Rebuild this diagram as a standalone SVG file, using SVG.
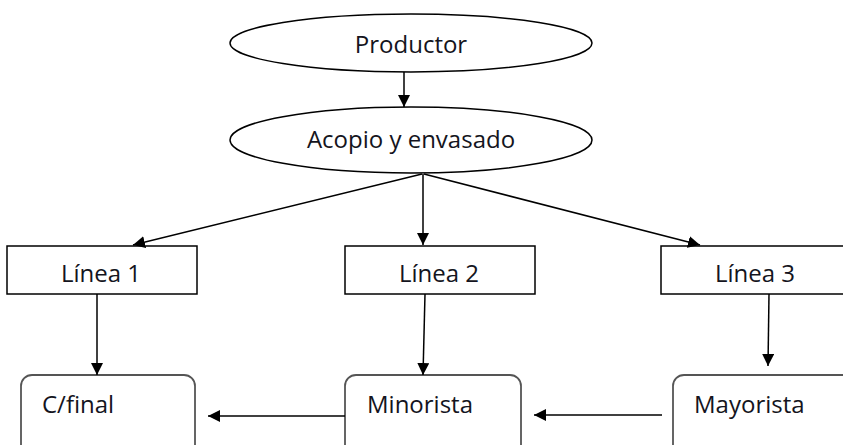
<svg xmlns="http://www.w3.org/2000/svg" width="843" height="445" viewBox="0 0 843 445">
<style>
.t{font-family:"Open Sans","Liberation Sans",sans-serif;font-size:24px;fill:#141420}
.el{fill:#fff;stroke:#000;stroke-width:1.5}
.bx{fill:#fff;stroke:#000;stroke-width:1.5}
.rb{fill:#fff;stroke:#555;stroke-width:1.8}
.c{stroke:#000;stroke-width:1.5;fill:none;marker-end:url(#ah)}
</style>
<defs>
<marker id="ah" markerUnits="userSpaceOnUse" markerWidth="12" markerHeight="12" refX="12" refY="6" orient="auto" viewBox="0 0 12 12">
<path d="M0,0 L12,6 L0,12 z" fill="#000"/>
</marker>
</defs>
<rect width="843" height="445" fill="#fff"/>
<g id="productor"><ellipse class="el" cx="411" cy="43" rx="181" ry="29"/><text class="t" x="411" y="53" text-anchor="middle">Productor</text></g>
<g id="acopio"><ellipse class="el" cx="411" cy="140" rx="181" ry="33"/><text class="t" x="411" y="148" text-anchor="middle">Acopio y envasado</text></g>
<g id="linea1"><rect class="bx" x="7" y="246" width="190" height="48"/><text class="t" x="101" y="282" text-anchor="middle">Línea 1</text></g>
<g id="linea2"><rect class="bx" x="345" y="246" width="190" height="48"/><text class="t" x="439" y="282" text-anchor="middle">Línea 2</text></g>
<g id="linea3"><rect class="bx" x="661" y="246" width="190" height="48"/><text class="t" x="755" y="282" text-anchor="middle">Línea 3</text></g>
<g id="cfinal"><rect class="rb" x="21" y="375" width="174" height="90" rx="11"/><text class="t" x="42" y="413">C/final</text></g>
<g id="minorista"><rect class="rb" x="345" y="375" width="176" height="90" rx="11"/><text class="t" x="367" y="413">Minorista</text></g>
<g id="mayorista"><rect class="rb" x="673" y="375" width="190" height="90" rx="11"/><text class="t" x="694" y="413">Mayorista</text></g>
<g id="connectors">
<line class="c" x1="404" y1="72" x2="404" y2="107"/>
<line class="c" x1="422" y1="174" x2="133" y2="245"/>
<line class="c" x1="423" y1="174" x2="423" y2="245"/>
<line class="c" x1="424" y1="174" x2="700" y2="245"/>
<line class="c" x1="97" y1="294" x2="97" y2="375"/>
<line class="c" x1="425" y1="294" x2="423" y2="375"/>
<line class="c" x1="769" y1="294" x2="768" y2="366"/>
<line class="c" x1="345" y1="416" x2="208" y2="416"/>
<line class="c" x1="662" y1="415" x2="534" y2="415"/>
</g>
</svg>
